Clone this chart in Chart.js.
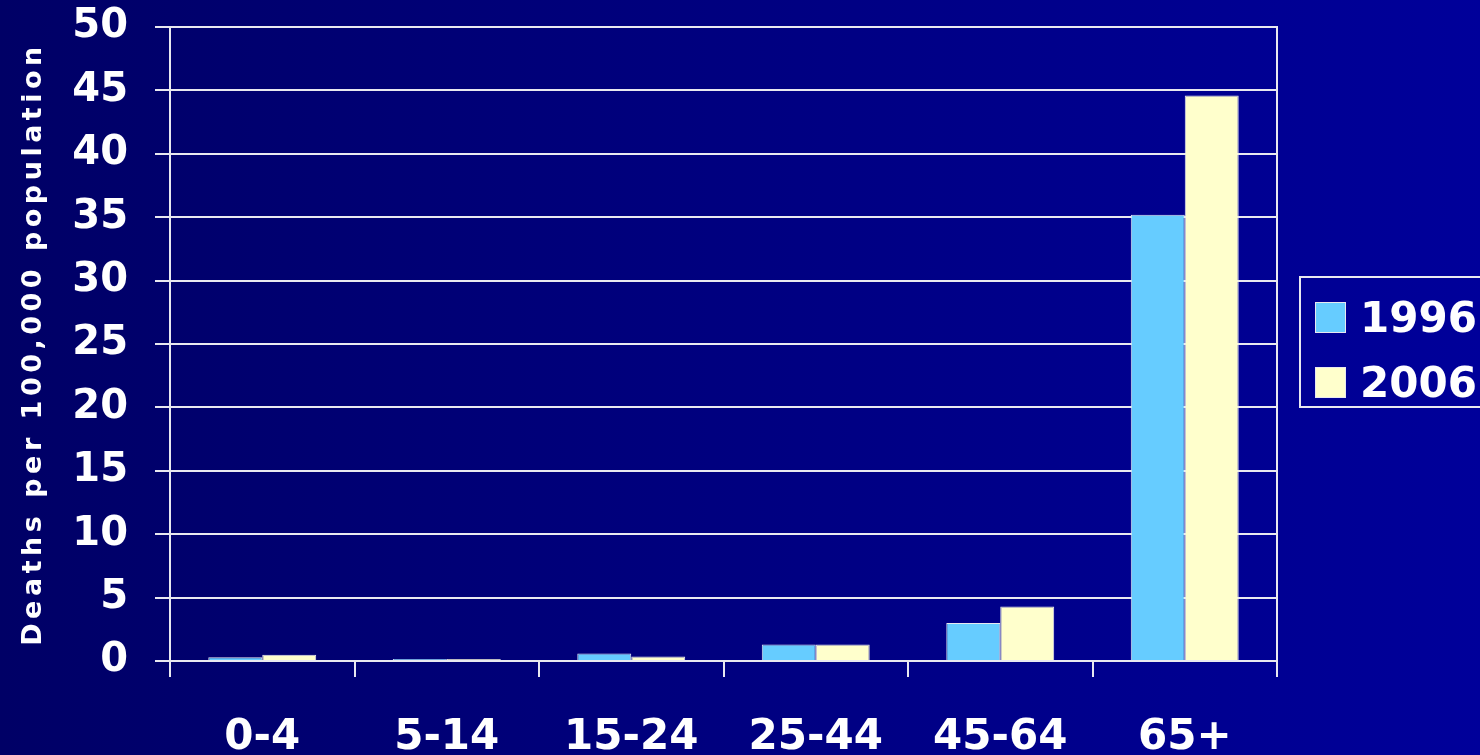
<!DOCTYPE html>
<html>
<head>
<meta charset="utf-8">
<script src="https://cdn.jsdelivr.net/npm/chart.js@4"></script>
<style>
  html, body { margin: 0; padding: 0; }
  body {
    width: 1480px; height: 755px; overflow: hidden; position: relative;
    background: linear-gradient(to right, #000066 0%, #000080 50%, #00009a 100%);
  }
  #wrap { position: absolute; left: 0; top: 0; width: 1480px; height: 755px; }
  #legend {
    position: absolute; left: 1299px; top: 276px; width: 200px; height: 132px;
    border: 2px solid #e8e8f0; box-sizing: border-box;
    font-family: "DejaVu Sans", Verdana, sans-serif; font-weight: bold; font-size: 42px; color: #fff;
  }
  #legend .item { position: absolute; left: 14px; height: 50px; display: flex; align-items: center; }
  #legend .box { width: 29px; height: 29px; border: 1px solid #e8e8f0; margin-right: 14px; }
</style>
</head>
<body>
<div id="wrap"><canvas id="deathChart" width="1480" height="755"></canvas></div>
<div id="legend"></div>
<script>
// Kelompok umur dan angka kematian per 100.000 penduduk
const ageGroups = ["0-4", "5-14", "15-24", "25-44", "45-64", "65+"];
const deaths1996 = [0.3, 0.15, 0.6, 1.3, 3.0, 35.2];
const deaths2006 = [0.5, 0.15, 0.35, 1.3, 4.3, 44.6];
const seriesLabels = ["1996", "2006"];
const yTicks = [0, 5, 10, 15, 20, 25, 30, 35, 40, 45, 50];

const fontFamily = "'DejaVu Sans', Verdana, sans-serif";

const chart = new Chart(document.getElementById("deathChart").getContext("2d"), {
  type: "bar",
  data: {
    labels: ageGroups,
    datasets: [
      {
        label: seriesLabels[0],
        data: deaths1996,
        backgroundColor: "#66ccff",
        borderColor: "#e8e8f0",
        borderWidth: 1,
        categoryPercentage: 0.585,
        barPercentage: 1,
      },
      {
        label: seriesLabels[1],
        data: deaths2006,
        backgroundColor: "#ffffcc",
        borderColor: "#e8e8f0",
        borderWidth: 1,
        categoryPercentage: 0.585,
        barPercentage: 1,
      },
    ],
  },
  options: {
    responsive: false,
    animation: false,
    layout: { padding: { top: 27, right: 203, left: 0, bottom: 0 } },
    plugins: {
      legend: { display: false },
      tooltip: { enabled: false },
    },
    scales: {
      x: {
        afterFit: (scale) => { scale.height = 94; },
        grid: { drawOnChartArea: false, drawTicks: true, tickLength: 16, color: "#e8e8f0", lineWidth: 2 },
        border: { color: "#e8e8f0", width: 2 },
        ticks: {
          color: "#ffffff",
          padding: 36,
          font: { family: fontFamily, size: 42, weight: "bold" },
        },
      },
      y: {
        min: 0,
        max: 50,
        afterFit: (scale) => {
          scale.width = 170;
          scale.paddingTop = 0;
          scale.paddingBottom = 0;
        },
        afterBuildTicks: (scale) => { scale.ticks = yTicks.map((v) => ({ value: v })); },
        grid: { color: "#e8e8f0", lineWidth: 2, tickLength: 15 },
        border: { color: "#e8e8f0", width: 2 },
        ticks: {
          color: "#ffffff",
          padding: 27,
          font: { family: fontFamily, size: 40, weight: "bold" },
        },
        title: {
          display: true,
          text: "Deaths per 100,000 population",
          color: "#ffffff",
          padding: { top: 18, bottom: 0 },
          font: { family: fontFamily, size: 27, weight: "bold" },
        },
      },
      yRight: {
        position: "right",
        min: 0,
        max: 50,
        afterFit: (scale) => {
          scale.width = 0;
          scale.paddingTop = 0;
          scale.paddingBottom = 0;
        },
        grid: { drawOnChartArea: false, drawTicks: false },
        border: { color: "#e8e8f0", width: 2 },
        ticks: { display: false },
      },
    },
  },
});

// Judul sumbu Y direnggangkan sedikit seperti aslinya
const yScale = chart.scales.y;
const origDrawTitle = yScale.drawTitle;
yScale.drawTitle = function () {
  this.ctx.letterSpacing = "4.5px";
  origDrawTitle.call(this);
  this.ctx.letterSpacing = "0px";
};
chart.draw();

// Legenda HTML dari dataset
const legendEl = document.getElementById("legend");
chart.data.datasets.forEach((ds, i) => {
  const item = document.createElement("div");
  item.className = "item";
  item.style.top = (i === 0 ? 14 : 79) + "px";
  const box = document.createElement("span");
  box.className = "box";
  box.style.background = ds.backgroundColor;
  const txt = document.createElement("span");
  txt.textContent = ds.label;
  item.appendChild(box);
  item.appendChild(txt);
  legendEl.appendChild(item);
});
</script>
</body>
</html>
